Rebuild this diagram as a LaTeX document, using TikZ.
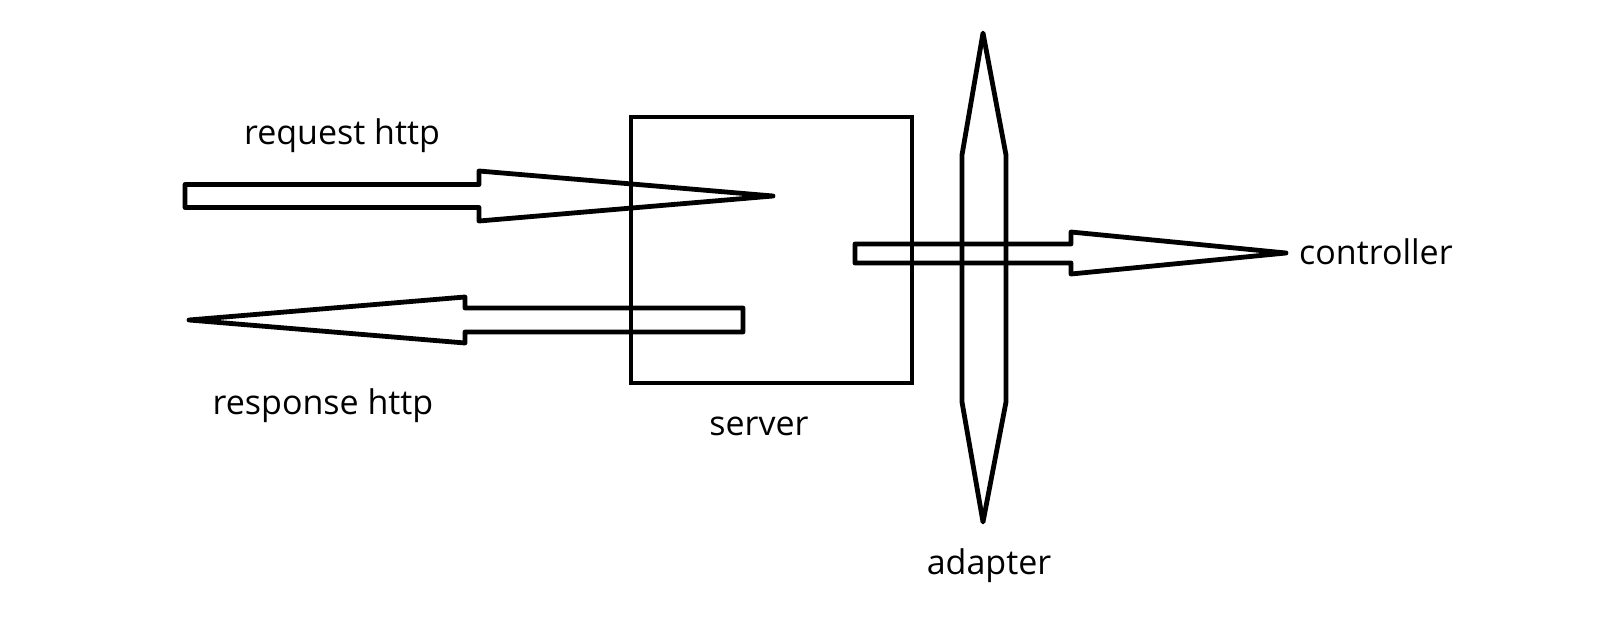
\documentclass[tikz,border=0pt]{standalone}
\usepackage{fontspec}
\setmainfont{Open Sans}
\begin{document}
\begin{tikzpicture}[x=1pt,y=-1pt,
  outline/.style={draw=black,line width=4.8pt,line join=round},
  lbl/.style={font=\fontsize{34}{40}\selectfont,inner sep=0pt,text=black}]
\useasboundingbox (0,0) rectangle (1620,624);
% server box
\draw[line width=4.8pt] (631,117) rectangle (912,383);
% request arrow
\draw[outline] (185,184.5) -- (479,184.5) -- (479,171) -- (773,196) -- (479,221) -- (479,207.5) -- (185,207.5) -- cycle;
% response arrow
\draw[outline] (743,308) -- (465,308) -- (465,297) -- (189,320) -- (465,343) -- (465,332) -- (743,332) -- cycle;
% adapter lens
\draw[outline] (983,33) -- (1006,155) -- (1006,402) -- (983,522) -- (962,402) -- (962,155) -- cycle;
% controller arrow
\draw[outline] (855,244) -- (1071,244) -- (1071,232) -- (1286,253) -- (1071,274) -- (1071,263) -- (855,263) -- cycle;
\node[lbl,anchor=center] (req) at (342,136) {request http};
\node[lbl,anchor=center] (resp) at (323,406) {response http};
\node[lbl,anchor=center] (server) at (759,426) {server};
\node[lbl,anchor=center] (adapter) at (989,566) {adapter};
\node[lbl,anchor=west] (ctrl) at (1299,252) {controller};
\end{tikzpicture}
\end{document}
